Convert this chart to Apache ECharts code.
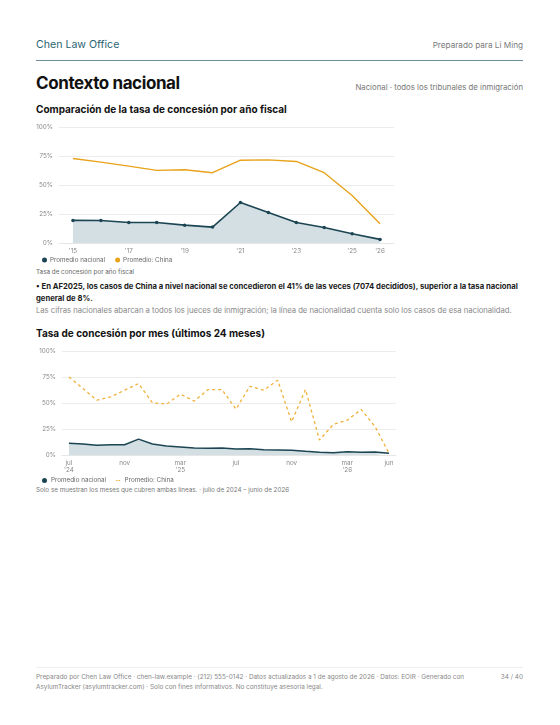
<!DOCTYPE html>
<html>
<head>
<meta charset="utf-8">
<script src="https://cdn.jsdelivr.net/npm/echarts@6/dist/echarts.min.js"></script>
<style>
  html, body { margin: 0; padding: 0; background: #fff; }
  body { width: 560px; height: 725px; position: relative; overflow: hidden; font-family: Inter, "Noto Sans", sans-serif; }
  .abs { position: absolute; white-space: nowrap; }
</style>
</head>
<body>
<div class="abs" style="left:36px; top:38px; font-size:10.6px; color:#2b6472;">Chen Law Office</div>
<div class="abs" style="right:37px; top:40px; font-size:8.2px; color:#7a7a7a;">Preparado para Li Ming</div>
<div class="abs" style="left:36px; top:60px; width:487px; height:1px; background:#6f8f9a;"></div>
<div class="abs" style="left:36px; top:73px; font-size:17px; font-weight:700; color:#111; letter-spacing:-0.4px;">Contexto nacional</div>
<div class="abs" style="right:37px; top:82px; font-size:7.8px; color:#777;">Nacional · todos los tribunales de inmigración</div>
<div class="abs" style="left:36px; top:103px; font-size:10px; font-weight:700; color:#111;">Comparación de la tasa de concesión por año fiscal</div>

<div id="c1" class="abs" style="left:0; top:115px; width:560px; height:152px;"></div>
<div class="abs" style="left:36px; top:267.5px; font-size:6.3px; color:#666;">Tasa de concesión por año fiscal</div>

<div class="abs" style="left:36px; top:281px; width:490px; white-space:normal; font-size:7.7px; font-weight:700; color:#1a1a1a; line-height:12px;">• En AF2025, los casos de China a nivel nacional se concedieron el 41% de las veces (7074 decididos), superior a la tasa nacional general de 8%.</div>
<div class="abs" style="left:36px; top:306px; font-size:7.65px; color:#888;">Las cifras nacionales abarcan a todos los jueces de inmigración; la línea de nacionalidad cuenta solo los casos de esa nacionalidad.</div>

<div class="abs" style="left:36px; top:327px; font-size:10px; font-weight:700; color:#111;">Tasa de concesión por mes (últimos 24 meses)</div>
<div id="c2" class="abs" style="left:0; top:340px; width:560px; height:145px;"></div>
<div class="abs" style="left:36px; top:486px; font-size:6.3px; color:#777;">Solo se muestran los meses que cubren ambas líneas. · julio de 2024 – junio de 2026</div>

<div class="abs" style="left:36px; top:667px; width:487px; height:1px; background:#eee;"></div>
<div class="abs" style="left:36px; top:672px; width:450px; white-space:normal; font-size:6.4px; line-height:10px; color:#888;">Preparado por Chen Law Office · chen-law.example · (212) 555-0142 · Datos actualizados a 1 de agosto de 2026 · Datos: EOIR · Generado con AsylumTracker (asylumtracker.com) · Solo con fines informativos. No constituye asesoría legal.</div>
<div class="abs" style="right:37px; top:672px; font-size:6.4px; line-height:10px; color:#888;">34 / 40</div>

<script>
// ---- Data ----
const fyLabels = ["'15","'16","'17","'18","'19","'20","'21","'22","'23","'24","'25","'26"];
const fyNational = [19.5, 19.4, 17.7, 17.7, 15.4, 13.7, 34.9, 26.3, 17.7, 13.4, 8.0, 3.1];
const fyChina = [72.9, 69.7, 66.3, 62.6, 63.1, 60.6, 71.4, 71.7, 70.3, 60.6, 41.0, 16.6];

const monthLabels = ["jul\n'24","ago","sep","oct","nov","dic","ene","feb","mar\n'25","abr","may","jun",
                     "jul","ago","sep","oct","nov","dic","ene","feb","mar\n'26","abr","may","jun"];
const moNational = [11.2, 10.5, 9.3, 9.9, 9.9, 15.3, 10.5, 8.6, 7.7, 6.7, 6.4, 6.7,
                    5.8, 6.1, 5.1, 4.8, 4.5, 3.5, 2.6, 2.2, 3.2, 2.6, 2.9, 1.6];
const moChina = [75.1, 64.0, 52.7, 55.9, 62.3, 68.7, 50.2, 48.9, 58.5, 51.8, 62.9, 62.9,
                 44.1, 66.1, 62.3, 71.9, 31.9, 62.9, 14.4, 29.4, 33.5, 43.8, 27.2, 1.6];
const yTicks = [0, 25, 50, 75, 100];

const NAVY = '#1b4553';
const AREA = '#d3dfe3';
const ORANGE = '#e8a31b';
const ORANGE2 = '#efb13a';
const FONT = 'Inter, "Noto Sans", sans-serif';

function yAxis() {
  return {
    type: 'value', min: yTicks[0], max: yTicks[yTicks.length - 1], interval: 25,
    axisLine: { show: false }, axisTick: { show: false },
    axisLabel: { formatter: '{value}%', fontSize: 6.3, color: '#888', fontFamily: FONT, margin: 6 },
    splitLine: { lineStyle: { color: '#ececec', width: 1 } }
  };
}

const c1 = echarts.init(document.getElementById('c1'), null, { renderer: 'canvas' });
c1.setOption({
  animation: false,
  grid: { left: 59, right: 166, top: 12, height: 116, containLabel: false },
  legend: {
    left: 37, top: 137, itemWidth: 5, itemHeight: 5, itemGap: 10,
    textStyle: { fontSize: 6.3, color: '#666', fontFamily: FONT, padding: [0, 0, 0, -2] },
    data: [{ name: 'Promedio nacional', icon: 'circle' }, { name: 'Promedio: China', icon: 'circle' }]
  },
  xAxis: {
    type: 'category', data: fyLabels, boundaryGap: true,
    axisLine: { lineStyle: { color: '#e6e6e6' } }, axisTick: { show: false },
    axisLabel: { fontSize: 6.3, color: '#888', fontFamily: FONT, margin: 5,
      interval: function (i) { return i % 2 === 0 || i === fyLabels.length - 1; } }
  },
  yAxis: yAxis(),
  series: [
    { name: 'Promedio nacional', type: 'line', data: fyNational, color: NAVY,
      symbol: 'circle', symbolSize: 3.5, showSymbol: true,
      lineStyle: { width: 1.6, color: NAVY }, itemStyle: { color: NAVY },
      areaStyle: { color: AREA, opacity: 1 }, z: 2 },
    { name: 'Promedio: China', type: 'line', data: fyChina, color: ORANGE,
      symbol: 'circle', symbolSize: 2, showSymbol: false,
      lineStyle: { width: 1.4, color: ORANGE }, itemStyle: { color: ORANGE }, z: 3 }
  ]
});

const c2 = echarts.init(document.getElementById('c2'), null, { renderer: 'canvas' });
c2.setOption({
  animation: false,
  grid: { left: 62, right: 164, top: 11, height: 104, containLabel: false },
  legend: {
    left: 37, top: 132.5, itemWidth: 7, itemHeight: 5, itemGap: 10,
    textStyle: { fontSize: 6.3, color: '#666', fontFamily: FONT, padding: [0, 0, 0, -2] },
    data: [{ name: 'Promedio nacional', icon: 'circle' },
           { name: 'Promedio: China', icon: 'path://M0,3.8H3V6.2H0Z M5,3.8H8V6.2H5Z M0,0H0.01V10H0Z' }]
  },
  xAxis: {
    type: 'category', data: monthLabels, boundaryGap: true,
    axisLine: { lineStyle: { color: '#e6e6e6' } }, axisTick: { show: false },
    axisLabel: { fontSize: 6.3, color: '#888', fontFamily: FONT, margin: 5, lineHeight: 7,
      interval: function (i) { return i % 4 === 0 || i === monthLabels.length - 1; } }
  },
  yAxis: yAxis(),
  series: [
    { name: 'Promedio nacional', type: 'line', data: moNational, color: NAVY,
      showSymbol: false, symbol: 'circle', symbolSize: 3,
      lineStyle: { width: 1.5, color: NAVY }, itemStyle: { color: NAVY },
      areaStyle: { color: AREA, opacity: 1 }, z: 2 },
    { name: 'Promedio: China', type: 'line', data: moChina, color: ORANGE2,
      showSymbol: false, symbol: 'circle', symbolSize: 2.5,
      lineStyle: { width: 1.3, color: ORANGE2, type: [3, 3] }, itemStyle: { color: ORANGE2 }, z: 3 }
  ]
});
</script>
</body>
</html>
